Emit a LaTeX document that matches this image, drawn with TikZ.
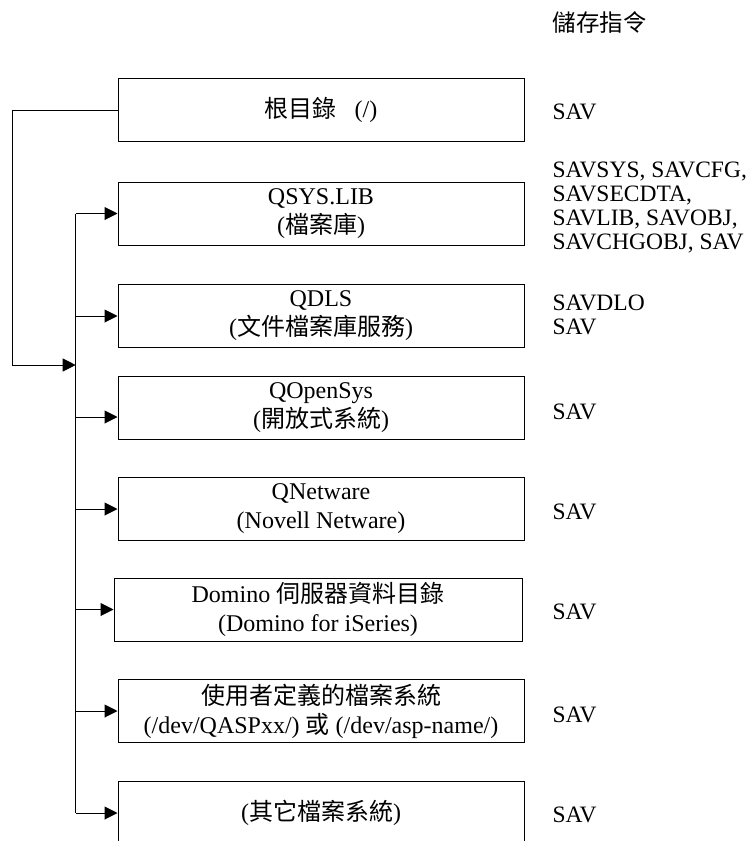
\documentclass[tikz,border=0pt]{standalone}
\usepackage{fontspec}
\setmainfont{Liberation Serif}
\newfontfamily\zhfont{Noto Sans CJK TC}
\newcommand{\zh}[1]{{\zhfont #1}}
\usepackage{tikz}
\usetikzlibrary{arrows.meta}
\tikzset{>={Triangle[length=13pt,width=13pt]}}
\tikzset{fsbox/.style={draw, minimum width=406pt, minimum height=63pt, align=center, inner sep=0pt, font=\fontsize{24}{29}\selectfont}}
\tikzset{cmd/.style={anchor=west, align=left, inner sep=0pt, font=\fontsize{23.5}{24}\selectfont}}

\begin{document}
\begin{tikzpicture}[line join=miter,x=1pt,y=-1pt,line width=1pt]
			\clip (0,0) rectangle (752,841);
			% file system boxes
			\node[fsbox] (root) at (321,110) {\zh{根目錄}\hspace{18pt}(/)};
			\node[fsbox] (qsys) at (321,213.5) {QSYS.LIB\\(\zh{檔案庫})};
			\node[fsbox] (qdls) at (321,316) {QDLS\\(\zh{文件檔案庫服務})};
			\node[fsbox] (qopen) at (321,407.5) {QOpenSys\\(\zh{開放式系統})};
			\node[fsbox] (qnet) at (321,509) {QNetware\\(Novell Netware)};
			\node[fsbox,minimum width=408pt] (domino) at (318,609.5) {Domino \zh{伺服器資料目錄}\\(Domino for iSeries)};
			\node[fsbox] (udfs) at (321,711) {\zh{使用者定義的檔案系統}\\(/dev/QASPxx/) \zh{或} (/dev/asp-name/)};
			\node[fsbox] (other) at (321,813) {(\zh{其它檔案系統})};
			% connectors
			\coordinate (jn) at (75.7,365);
			\coordinate (bend) at (12.7,365);
			\coordinate (qoin) at ([yshift=-9.5pt]qopen.west);
			\draw[->] (root.west) -| (bend) -- (jn);
			\draw (qsys.west -| jn) -- (other.west -| jn);
			\foreach \b in {qsys,qdls,qnet,domino,udfs,other}
				\draw[->] (\b.west -| jn) -- (\b.west);
			\draw[->] (qoin -| jn) -- (qoin);
			% save commands
			\node[cmd] (hdr) at (552,22) {\zh{儲存指令}};
			\node[cmd] (c1) at (552,112) {SAV};
			\node[cmd] (c2) at (552,208) {SAVSYS, SAVCFG,\\SAVSECDTA,\\SAVLIB, SAVOBJ,\\SAVCHGOBJ, SAV};
			\node[cmd] (c3) at (552,315) {SAVDLO\\SAV};
			\foreach \y/\n in {412/c4,512/c5,612/c6,715/c7,815/c8}
				\node[cmd] (\n) at (552,\y) {SAV};
\end{tikzpicture}
\end{document}
